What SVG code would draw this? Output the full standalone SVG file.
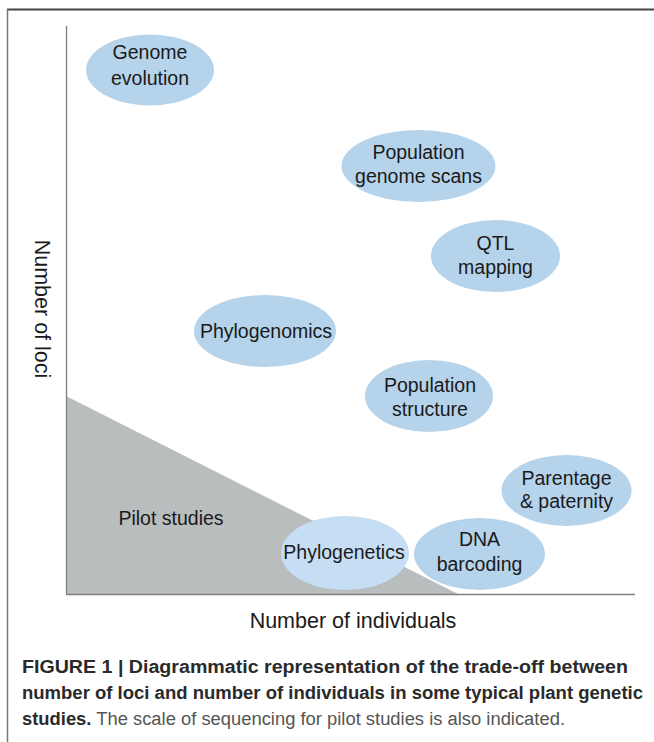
<svg xmlns="http://www.w3.org/2000/svg" width="654" height="742" viewBox="0 0 654 742">
<style>
.node{fill:#b5d3eb;}
.light{fill:#c5def3;}
.lbl{font-family:"Liberation Sans",Arial,sans-serif;font-size:19.5px;fill:#1a1a1a;text-anchor:middle;}
.axl{font-family:"Liberation Sans",Arial,sans-serif;font-size:21.5px;fill:#1a1a1a;text-anchor:middle;}
.cap{font-family:"Liberation Sans",Arial,sans-serif;font-size:18px;fill:#2a2a2a;}
.b{font-weight:bold;}
.r{fill:#555555;font-weight:normal;}
</style>
<rect width="654" height="742" fill="#ffffff"/>
<g id="frame">
<line x1="7" y1="9.5" x2="654" y2="9.5" stroke="#444444" stroke-width="2"/>
<line x1="7.5" y1="9" x2="7.5" y2="742" stroke="#777777" stroke-width="1.5"/>
</g>
<g id="pilot">
<polygon points="66,396 66,594 458,594" fill="#babdbd"/>
<text class="lbl" x="171" y="525">Pilot studies</text>
</g>
<g id="axes">
<line x1="66.5" y1="26" x2="66.5" y2="594" stroke="#808080" stroke-width="1.3"/>
<line x1="66" y1="594.5" x2="635" y2="594.5" stroke="#808080" stroke-width="1.3"/>
<text class="axl" x="353" y="628">Number of individuals</text>
<text class="axl" transform="translate(35,309) rotate(90)" x="0" y="0">Number of loci</text>
</g>
<g id="genome-evolution">
<ellipse class="node" cx="150" cy="70" rx="64" ry="35.5"/>
<text class="lbl" x="150" y="59">Genome</text>
<text class="lbl" x="150" y="85">evolution</text>
</g>
<g id="population-genome-scans">
<ellipse class="node" cx="418.5" cy="166" rx="77" ry="36"/>
<text class="lbl" x="418.5" y="159">Population</text>
<text class="lbl" x="418.5" y="183">genome scans</text>
</g>
<g id="qtl-mapping">
<ellipse class="node" cx="495.5" cy="256" rx="64.5" ry="36"/>
<text class="lbl" x="495.5" y="250">QTL</text>
<text class="lbl" x="495.5" y="274">mapping</text>
</g>
<g id="phylogenomics">
<ellipse class="node" cx="265" cy="331" rx="71" ry="36"/>
<text class="lbl" x="266" y="338">Phylogenomics</text>
</g>
<g id="population-structure">
<ellipse class="node" cx="429" cy="396" rx="64" ry="36"/>
<text class="lbl" x="430" y="392">Population</text>
<text class="lbl" x="430" y="416">structure</text>
</g>
<g id="parentage-paternity">
<ellipse class="node" cx="566.5" cy="490.5" rx="65" ry="35.5"/>
<text class="lbl" x="566.5" y="485">Parentage</text>
<text class="lbl" x="566.5" y="508">&amp; paternity</text>
</g>
<g id="dna-barcoding">
<ellipse class="node" cx="479.5" cy="554" rx="65.5" ry="36"/>
<text class="lbl" x="479.5" y="546">DNA</text>
<text class="lbl" x="479.5" y="571">barcoding</text>
</g>
<g id="phylogenetics">
<ellipse class="light" cx="345" cy="553" rx="64" ry="37"/>
<text class="lbl" x="344" y="559">Phylogenetics</text>
</g>
<g id="caption">
<text class="cap b" x="22" y="673" textLength="606" lengthAdjust="spacingAndGlyphs">FIGURE 1 | Diagrammatic representation of the trade-off between</text>
<text class="cap b" x="22" y="699" textLength="621" lengthAdjust="spacingAndGlyphs">number of loci and number of individuals in some typical plant genetic</text>
<text class="cap" x="22" y="725" textLength="543" lengthAdjust="spacingAndGlyphs"><tspan class="b">studies.</tspan><tspan class="r"> The scale of sequencing for pilot studies is also indicated.</tspan></text>
</g>
</svg>
